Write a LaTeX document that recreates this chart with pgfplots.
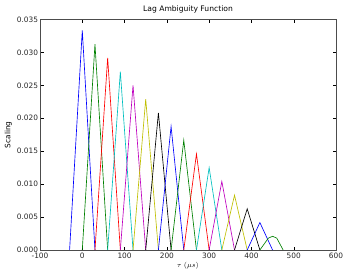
\documentclass[border=0pt]{standalone}
\usepackage{fontspec}
\setmainfont{DejaVu Sans}
\usepackage{pgfplots}
\pgfplotsset{compat=1.18}
\definecolor{mb}{rgb}{0,0,1}
\definecolor{mg}{rgb}{0,0.5,0}
\definecolor{mr}{rgb}{1,0,0}
\definecolor{mc}{rgb}{0,0.75,0.75}
\definecolor{mm}{rgb}{0.75,0,0.75}
\definecolor{my}{rgb}{0.75,0.75,0}
\definecolor{mk}{rgb}{0,0,0}
\begin{document}
\begin{tikzpicture}
\path[use as bounding box] (-40bp,-20bp) rectangle (306bp,250bp);
\begin{axis}[
  scale only axis,
  width=296bp, height=230.5bp,
  xmin=-100, xmax=600, ymin=0, ymax=0.035,
  xtick={-100,0,100,200,300,400,500,600},
  ytick={0,0.005,0.010,0.015,0.020,0.025,0.030,0.035},
  scaled y ticks=false,
  yticklabel style={/pgf/number format/fixed,/pgf/number format/fixed zerofill,/pgf/number format/precision=3},
  /pgf/number format/assume math mode=true,
  tick align=inside, major tick length=3.5bp,
  tick style={black, line width=0.4bp},
  axis line style={line width=0.7bp, black!70},
  ticklabel style={font=\fontsize{7.4bp}{8bp}\selectfont, text=black!85},
  xticklabel style={yshift=1bp},
  yticklabel style={xshift=1.5bp},
  title={Lag Ambiguity Function},
  title style={font=\fontsize{7.6bp}{9bp}\selectfont, yshift=-3bp},
  ylabel={Scaling},
  ylabel style={font=\fontsize{7.4bp}{8bp}\selectfont, yshift=-2bp},
  xlabel={$\tau\ (\mu s)$},
  xlabel style={font=\fontsize{7bp}{8bp}\selectfont, yshift=3bp},
  every axis plot/.append style={line width=0.65bp, mark=none},
]
\addplot[mb] coordinates {(-30,0) (0,0.03333) (30,0)};
\addplot[mg] coordinates {(0,0) (30,0.03125) (60,0)};
\addplot[mr] coordinates {(30,0) (60,0.02917) (90,0)};
\addplot[mc] coordinates {(60,0) (90,0.02708) (120,0)};
\addplot[mm] coordinates {(90,0) (120,0.02500) (150,0)};
\addplot[my] coordinates {(120,0) (150,0.02292) (180,0)};
\addplot[mk] coordinates {(150,0) (180,0.02083) (210,0)};
\addplot[mb] coordinates {(180,0) (210,0.01875) (240,0)};
\addplot[mg] coordinates {(210,0) (240,0.01667) (270,0)};
\addplot[mr] coordinates {(240,0) (270,0.01458) (300,0)};
\addplot[mc] coordinates {(270,0) (300,0.01250) (330,0)};
\addplot[mm] coordinates {(300,0) (330,0.01042) (360,0)};
\addplot[my] coordinates {(330,0) (360,0.00833) (390,0)};
\addplot[mk] coordinates {(360,0) (390,0.00625) (420,0)};
\addplot[mb] coordinates {(390,0) (420,0.00417) (450,0)};
\addplot[mg] coordinates {(420,0) (440,0.00180) (450,0.00208) (460,0.00180) (475,0)};
\end{axis}
\end{tikzpicture}
\end{document}
